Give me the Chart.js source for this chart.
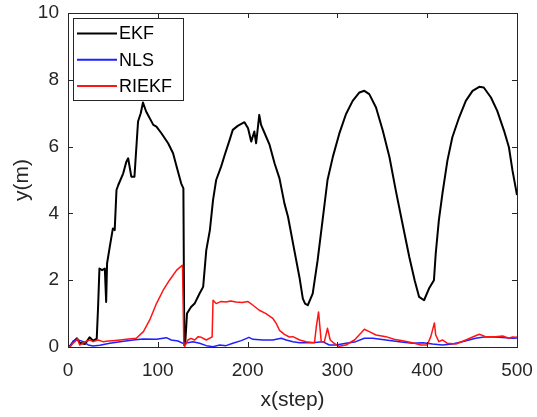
<!DOCTYPE html>
<html>
<head>
<meta charset="utf-8">
<script src="https://cdn.jsdelivr.net/npm/chart.js@4.4.1/dist/chart.umd.min.js"></script>
<style>
  html, body { margin: 0; padding: 0; background: #fff; }
  #wrap { width: 537px; height: 417px; }
</style>
</head>
<body>
<div id="wrap"><canvas id="errChart" width="537" height="417"></canvas></div>
<script>
// series values (x = step, y = error in m)
const seriesNames = ['EKF', 'NLS', 'RIEKF'];
const seriesColors = ['#000000', '#1f1fff', '#ff1414'];

const ekfX = [0, 2, 6, 10, 13, 19, 24, 28, 32, 33.5, 35, 38, 41, 42.5, 43.5, 46.5, 50, 52, 54, 56, 61.5, 65, 67, 70.5, 74, 78, 81, 83.5, 87, 95, 98.5, 104, 111.5, 117, 121, 126, 128.5, 129.5, 130.5, 132.5, 137, 141, 146.5, 150.5, 154, 158, 161.5, 165, 170.5, 174.5, 180, 183.5, 189, 196.5, 200.5, 204, 207.5, 209.5, 213, 215, 219, 224.5, 230, 235.5, 241, 245, 252, 258, 261.5, 264, 267, 272.5, 278, 283.5, 289, 295, 302, 309.5, 317, 324.5, 330, 335.5, 343, 350.5, 358, 365, 372.5, 380, 386, 391, 396.5, 402, 407.5, 409.5, 413, 417, 422.5, 428, 435.5, 443, 450.5, 458, 463, 471, 478, 485.5, 491, 495, 500];
const ekfY = [0.05, 0.02, 0.16, 0.26, 0.13, 0.09, 0.29, 0.19, 0.25, 1.2, 2.35, 2.3, 2.35, 1.35, 2.5, 3.0, 3.55, 3.5, 4.7, 4.85, 5.2, 5.55, 5.65, 5.1, 5.1, 6.75, 7.0, 7.32, 7.05, 6.65, 6.6, 6.4, 6.1, 5.8, 5.4, 4.9, 4.75, 0.05, 0.1, 1.0, 1.2, 1.3, 1.6, 1.8, 2.9, 3.5, 4.4, 5.0, 5.4, 5.75, 6.2, 6.5, 6.62, 6.73, 6.55, 6.15, 6.45, 6.1, 6.95, 6.65, 6.4, 6.05, 5.5, 5.05, 4.3, 3.9, 2.9, 2.05, 1.45, 1.3, 1.25, 1.6, 2.6, 3.8, 5.0, 5.7, 6.38, 6.97, 7.37, 7.62, 7.67, 7.57, 7.17, 6.48, 5.68, 4.69, 3.69, 2.7, 2.0, 1.5, 1.4, 1.75, 2.0, 2.8, 3.8, 4.6, 5.58, 6.28, 6.87, 7.37, 7.67, 7.79, 7.77, 7.47, 7.07, 6.48, 5.98, 5.28, 4.55];

const nlsX = [0, 2, 6, 11.5, 17, 22.5, 28, 35.5, 46.5, 58, 72.5, 83.5, 98.5, 109.5, 115, 122.5, 128, 133.5, 139, 146.5, 154, 161.5, 169, 176, 183.5, 193, 201.5, 206, 217, 228, 237.5, 243, 250.5, 258, 272.5, 283.5, 291, 298.5, 309.5, 320.5, 330, 339.5, 354, 369, 383.5, 395, 406, 417, 428, 439, 454, 465, 480, 495, 500];
const nlsY = [0.03, 0.0, 0.19, 0.21, 0.16, 0.06, 0.03, 0.05, 0.11, 0.16, 0.21, 0.24, 0.23, 0.28, 0.21, 0.18, 0.11, 0.13, 0.16, 0.11, 0.04, 0.01, 0.06, 0.04, 0.11, 0.19, 0.29, 0.23, 0.21, 0.21, 0.26, 0.21, 0.16, 0.13, 0.13, 0.16, 0.06, 0.06, 0.11, 0.16, 0.26, 0.26, 0.21, 0.16, 0.11, 0.13, 0.09, 0.06, 0.09, 0.16, 0.26, 0.31, 0.29, 0.26, 0.27];

const riekfX = [0, 2, 5, 8, 10.5, 13, 16, 19, 24.5, 28, 33.5, 39, 45, 50, 58, 65, 76, 84, 91, 98.5, 106, 113, 121, 127.5, 129, 130, 133.5, 137, 141, 145, 148.5, 154, 159.5, 160.5, 161.5, 165, 170, 176, 181, 187, 194, 200.5, 206, 213, 220.5, 228, 232, 235.5, 241, 246.5, 250.5, 258, 265, 274.5, 276.5, 279, 282, 285.5, 289, 292, 296.5, 302, 309.5, 319, 326, 330, 335.5, 343, 354, 363, 372.5, 383.5, 393, 400, 404, 408, 409.5, 413, 417, 422.5, 432, 443, 450, 458, 465, 476, 484, 491, 495, 498.5, 500];
const riekfY = [0.05, 0.0, 0.1, 0.17, 0.25, 0.06, 0.1, 0.16, 0.21, 0.16, 0.21, 0.16, 0.18, 0.19, 0.21, 0.23, 0.26, 0.46, 0.81, 1.3, 1.7, 2.0, 2.3, 2.45, 0.05, 0.02, 0.21, 0.26, 0.21, 0.31, 0.29, 0.21, 0.29, 0.3, 1.4, 1.3, 1.36, 1.35, 1.38, 1.35, 1.33, 1.36, 1.25, 1.1, 1.0, 0.86, 0.7, 0.5, 0.38, 0.3, 0.31, 0.21, 0.16, 0.13, 0.6, 1.05, 0.16, 0.16, 0.56, 0.21, 0.11, 0.02, 0.06, 0.21, 0.41, 0.53, 0.46, 0.36, 0.31, 0.23, 0.19, 0.13, 0.06, 0.06, 0.31, 0.72, 0.36, 0.16, 0.21, 0.11, 0.09, 0.21, 0.29, 0.38, 0.31, 0.31, 0.33, 0.26, 0.3, 0.29, 0.3];

const xTicks = [0, 100, 200, 300, 400, 500];
const yTicks = [0, 2, 4, 6, 8, 10];

const axisColor = '#262626';
const fontFamily = '"Liberation Sans", Arial, Helvetica, sans-serif';

function toPoints(xs, ys) {
    return xs.map((x, i) => ({ x: x, y: ys[i] }));
}

// box round the plot area plus inward ticks on all four sides (MATLAB style)
const boxPlugin = {
    id: 'boxPlugin',
    afterDraw(chart) {
        const ctx = chart.ctx;
        const area = chart.chartArea;
        const xs = chart.scales.x;
        const ys = chart.scales.y;
        const tickLen = 5;
        ctx.save();
        ctx.strokeStyle = axisColor;
        ctx.lineWidth = 1;
        ctx.strokeRect(Math.round(area.left) + 0.5, Math.round(area.top) + 0.5,
            Math.round(area.right - area.left), Math.round(area.bottom - area.top));
        ctx.beginPath();
        xTicks.forEach(v => {
            const px = Math.round(xs.getPixelForValue(v)) + 0.5;
            ctx.moveTo(px, area.bottom);
            ctx.lineTo(px, area.bottom - tickLen);
            ctx.moveTo(px, area.top);
            ctx.lineTo(px, area.top + tickLen);
        });
        yTicks.forEach(v => {
            const py = Math.round(ys.getPixelForValue(v)) + 0.5;
            ctx.moveTo(area.left, py);
            ctx.lineTo(area.left + tickLen, py);
            ctx.moveTo(area.right, py);
            ctx.lineTo(area.right - tickLen, py);
        });
        ctx.stroke();
        ctx.restore();
    }
};

// legend box in the upper left corner of the plot
const legendPlugin = {
    id: 'legendPlugin',
    afterDraw(chart) {
        const ctx = chart.ctx;
        const area = chart.chartArea;
        const left = area.left + 5;
        const top = area.top + 5;
        const w = 110;
        const h = 82;
        const rowH = 26.3;
        ctx.save();
        ctx.fillStyle = '#ffffff';
        ctx.fillRect(left, top, w, h);
        ctx.strokeStyle = axisColor;
        ctx.lineWidth = 1;
        ctx.strokeRect(Math.round(left) + 0.5, Math.round(top) + 0.5, w, h);
        ctx.font = '18px ' + fontFamily;
        ctx.textBaseline = 'middle';
        ctx.textAlign = 'left';
        chart.data.datasets.forEach((ds, i) => {
            const y = top + 15.5 + i * rowH;
            ctx.strokeStyle = ds.borderColor;
            ctx.lineWidth = 2;
            ctx.beginPath();
            ctx.moveTo(left + 4, y);
            ctx.lineTo(left + 44, y);
            ctx.stroke();
            ctx.fillStyle = '#000000';
            ctx.fillText(ds.label, left + 46, y + 1);
        });
        ctx.restore();
    }
};

const ctx = document.getElementById('errChart').getContext('2d');
const errChart = new Chart(ctx, {
    type: 'line',
    data: {
        datasets: [
            { label: seriesNames[0], data: toPoints(ekfX, ekfY), borderColor: seriesColors[0], borderWidth: 2, order: 3 },
            { label: seriesNames[1], data: toPoints(nlsX, nlsY), borderColor: seriesColors[1], borderWidth: 1.5, order: 2 },
            { label: seriesNames[2], data: toPoints(riekfX, riekfY), borderColor: seriesColors[2], borderWidth: 1.5, order: 1 }
        ]
    },
    options: {
        responsive: false,
        animation: false,
        events: [],
        elements: {
            point: { radius: 0 },
            line: { tension: 0, borderJoinStyle: 'round' }
        },
        layout: { padding: { top: 13, right: 20, left: 0, bottom: 0 } },
        plugins: {
            legend: { display: false },
            tooltip: { enabled: false }
        },
        scales: {
            x: {
                type: 'linear',
                min: 0,
                max: 500,
                afterFit: s => { s.height = 70; s.paddingLeft = 0; s.paddingRight = 0; },
                afterBuildTicks: s => { s.ticks = xTicks.map(v => ({ value: v })); },
                grid: { display: false, drawTicks: false },
                border: { display: false },
                ticks: { color: axisColor, padding: 12, maxRotation: 0, font: { family: fontFamily, size: 19 } },
                title: { display: true, text: 'x(step)', color: axisColor, padding: { top: 0, bottom: 4 }, font: { family: fontFamily, size: 21 } }
            },
            y: {
                type: 'linear',
                min: 0,
                max: 10,
                afterFit: s => { s.width = 68; s.paddingTop = 0; s.paddingBottom = 0; },
                afterBuildTicks: s => { s.ticks = yTicks.map(v => ({ value: v })); },
                grid: { display: false, drawTicks: false },
                border: { display: false },
                ticks: { color: axisColor, padding: 9, font: { family: fontFamily, size: 19 } },
                title: { display: true, text: 'y(m)', color: axisColor, padding: { top: 10, bottom: 0 }, font: { family: fontFamily, size: 21 } }
            }
        }
    },
    plugins: [boxPlugin, legendPlugin]
});
</script>
</body>
</html>
